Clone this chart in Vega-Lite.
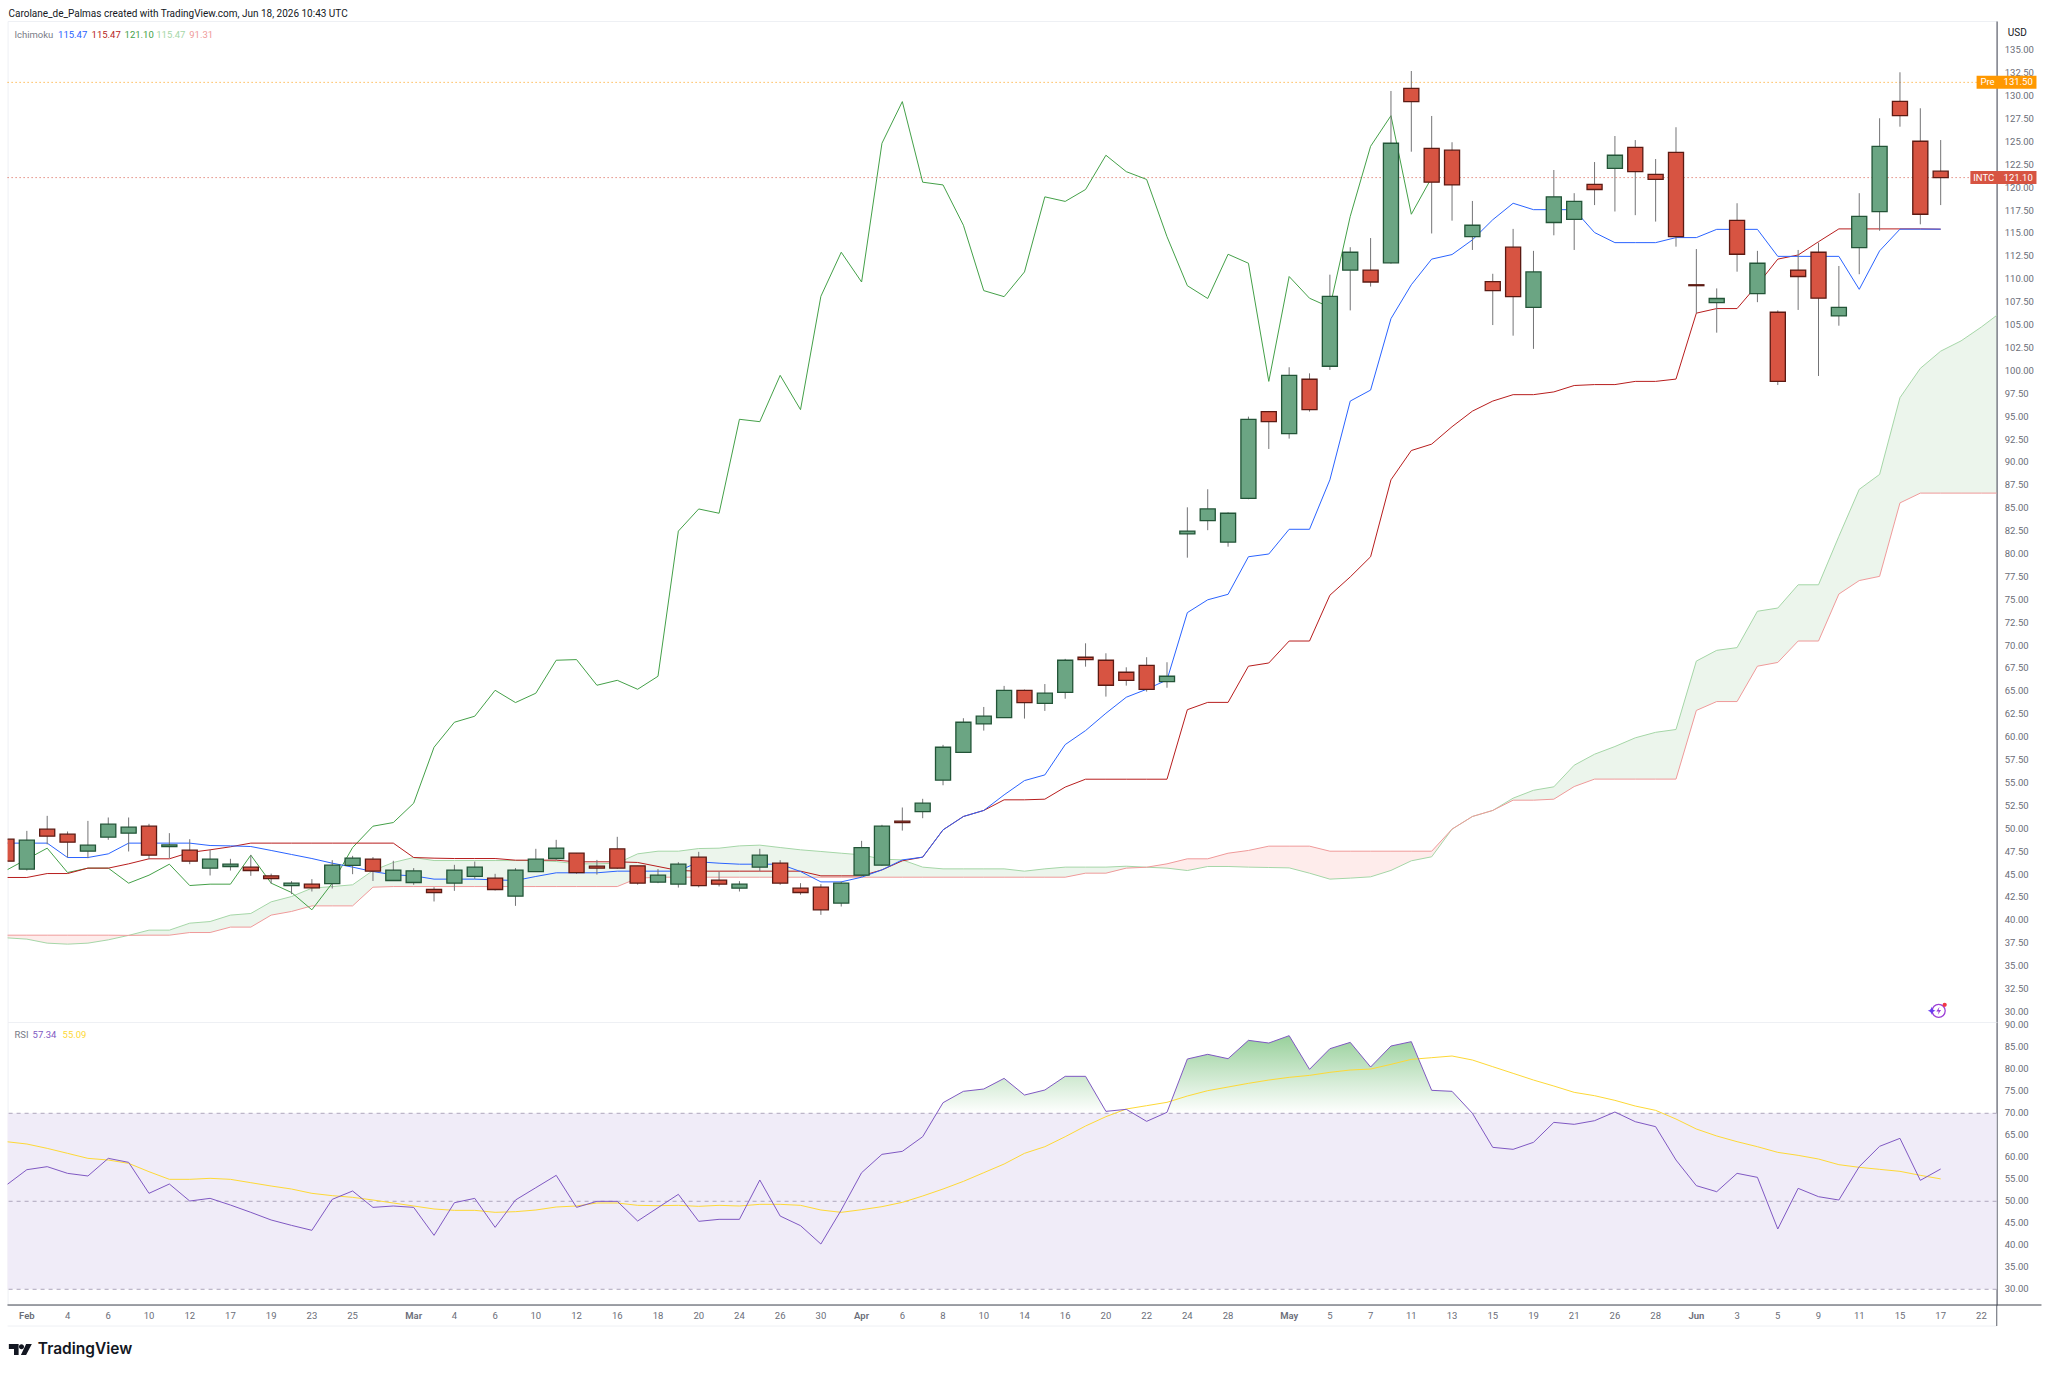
{
  "$schema": "https://vega.github.io/schema/vega-lite/v6.json",
  "background": "white",
  "padding": {"left": 5.6, "top": 8, "right": 0, "bottom": 0},
  "config": {
    "font": "Roboto",
    "view": {"stroke": "#eef0f4"},
    "axis": {"domain": false, "ticks": false, "labels": false, "grid": false}
  },
  "datasets": {
    "bars": [
      {"date":"2026-01-30","open":48.86,"high":49.0,"low":46.2,"close":46.46,"tenkan":48.43,"kijun":44.68,"chikou":45.48,"rsi":53.7,"rsi_ma":63.55},
      {"date":"2026-02-02","open":45.59,"high":49.77,"low":45.44,"close":48.75,"tenkan":48.43,"kijun":44.68,"chikou":46.68,"rsi":57.18,"rsi_ma":63.02},
      {"date":"2026-02-03","open":49.95,"high":51.41,"low":48.3,"close":49.19,"tenkan":48.43,"kijun":45.11,"chikou":47.88,"rsi":57.87,"rsi_ma":62.03},
      {"date":"2026-02-04","open":49.41,"high":49.7,"low":46.86,"close":48.54,"tenkan":46.86,"kijun":45.11,"chikou":45.22,"rsi":56.35,"rsi_ma":60.9},
      {"date":"2026-02-05","open":47.55,"high":50.86,"low":46.79,"close":48.21,"tenkan":46.86,"kijun":45.7,"chikou":45.7,"rsi":55.75,"rsi_ma":59.76},
      {"date":"2026-02-06","open":49.08,"high":51.23,"low":48.79,"close":50.5,"tenkan":47.26,"kijun":45.7,"chikou":45.7,"rsi":59.76,"rsi_ma":59.38},
      {"date":"2026-02-09","open":49.52,"high":51.23,"low":47.52,"close":50.17,"tenkan":48.43,"kijun":46.17,"chikou":44.06,"rsi":58.85,"rsi_ma":58.62},
      {"date":"2026-02-10","open":50.28,"high":50.54,"low":46.68,"close":47.12,"tenkan":48.43,"kijun":46.72,"chikou":44.93,"rsi":51.81,"rsi_ma":56.73},
      {"date":"2026-02-11","open":48.06,"high":49.52,"low":46.8,"close":48.24,"tenkan":48.43,"kijun":46.72,"chikou":46.13,"rsi":53.93,"rsi_ma":54.99},
      {"date":"2026-02-12","open":47.66,"high":48.86,"low":46.13,"close":46.46,"tenkan":48.43,"kijun":47.41,"chikou":43.8,"rsi":50.06,"rsi_ma":54.99},
      {"date":"2026-02-13","open":45.7,"high":47.7,"low":44.9,"close":46.68,"tenkan":48.17,"kijun":47.7,"chikou":43.95,"rsi":50.67,"rsi_ma":55.22},
      {"date":"2026-02-17","open":45.88,"high":46.72,"low":45.44,"close":46.13,"tenkan":48.13,"kijun":48.03,"chikou":43.95,"rsi":49.15,"rsi_ma":54.99},
      {"date":"2026-02-18","open":45.81,"high":47.15,"low":44.86,"close":45.44,"tenkan":48.06,"kijun":48.43,"chikou":47.12,"rsi":47.49,"rsi_ma":54.23},
      {"date":"2026-02-19","open":44.86,"high":45.1,"low":44.0,"close":44.57,"tenkan":47.63,"kijun":48.43,"chikou":44.06,"rsi":45.75,"rsi_ma":53.47},
      {"date":"2026-02-20","open":43.8,"high":44.28,"low":42.86,"close":44.06,"tenkan":47.19,"kijun":48.43,"chikou":43.04,"rsi":44.53,"rsi_ma":52.79},
      {"date":"2026-02-23","open":43.95,"high":44.5,"low":43.15,"close":43.55,"tenkan":46.75,"kijun":48.43,"chikou":41.15,"rsi":43.4,"rsi_ma":51.81},
      {"date":"2026-02-24","open":44.02,"high":46.57,"low":43.48,"close":46.02,"tenkan":46.24,"kijun":48.43,"chikou":44.06,"rsi":50.44,"rsi_ma":51.28},
      {"date":"2026-02-25","open":46.0,"high":47.04,"low":45.04,"close":46.79,"tenkan":45.81,"kijun":48.43,"chikou":47.95,"rsi":52.34,"rsi_ma":50.9},
      {"date":"2026-02-26","open":46.68,"high":46.9,"low":44.3,"close":45.37,"tenkan":45.33,"kijun":48.43,"chikou":50.28,"rsi":48.62,"rsi_ma":50.29},
      {"date":"2026-02-27","open":44.35,"high":46.5,"low":44.35,"close":45.48,"tenkan":44.97,"kijun":48.43,"chikou":50.68,"rsi":48.93,"rsi_ma":49.61},
      {"date":"2026-03-02","open":44.13,"high":45.7,"low":43.88,"close":45.4,"tenkan":44.86,"kijun":46.86,"chikou":52.79,"rsi":48.62,"rsi_ma":48.93},
      {"date":"2026-03-03","open":43.37,"high":43.62,"low":42.06,"close":43.04,"tenkan":44.5,"kijun":46.79,"chikou":58.9,"rsi":42.26,"rsi_ma":48.25},
      {"date":"2026-03-04","open":44.06,"high":46.06,"low":43.22,"close":45.48,"tenkan":44.5,"kijun":46.75,"chikou":61.63,"rsi":49.68,"rsi_ma":47.94},
      {"date":"2026-03-05","open":44.79,"high":46.42,"low":44.53,"close":45.8,"tenkan":44.5,"kijun":46.75,"chikou":62.29,"rsi":50.67,"rsi_ma":47.94},
      {"date":"2026-03-06","open":44.6,"high":45.08,"low":43.26,"close":43.37,"tenkan":44.42,"kijun":46.75,"chikou":65.12,"rsi":44.08,"rsi_ma":47.49},
      {"date":"2026-03-09","open":42.64,"high":45.7,"low":41.58,"close":45.48,"tenkan":44.35,"kijun":46.57,"chikou":63.78,"rsi":50.29,"rsi_ma":47.64},
      {"date":"2026-03-10","open":45.33,"high":47.81,"low":45.33,"close":46.68,"tenkan":44.79,"kijun":46.57,"chikou":64.8,"rsi":53.09,"rsi_ma":48.02},
      {"date":"2026-03-11","open":46.75,"high":48.79,"low":46.6,"close":47.88,"tenkan":45.19,"kijun":46.57,"chikou":68.4,"rsi":55.9,"rsi_ma":48.7},
      {"date":"2026-03-12","open":47.33,"high":47.33,"low":45.08,"close":45.22,"tenkan":45.19,"kijun":46.39,"chikou":68.47,"rsi":48.62,"rsi_ma":48.93},
      {"date":"2026-03-13","open":45.91,"high":46.6,"low":45.0,"close":45.7,"tenkan":45.19,"kijun":46.39,"chikou":65.67,"rsi":49.99,"rsi_ma":49.61},
      {"date":"2026-03-16","open":47.81,"high":49.12,"low":45.62,"close":45.7,"tenkan":45.37,"kijun":46.39,"chikou":66.21,"rsi":49.99,"rsi_ma":49.61},
      {"date":"2026-03-17","open":45.95,"high":45.95,"low":43.9,"close":44.06,"tenkan":45.37,"kijun":46.32,"chikou":65.23,"rsi":45.52,"rsi_ma":49.08},
      {"date":"2026-03-18","open":44.17,"high":45.6,"low":44.06,"close":44.93,"tenkan":45.37,"kijun":45.88,"chikou":66.65,"rsi":48.55,"rsi_ma":49.0},
      {"date":"2026-03-19","open":43.95,"high":46.35,"low":43.58,"close":46.13,"tenkan":45.37,"kijun":45.44,"chikou":82.5,"rsi":51.58,"rsi_ma":49.08},
      {"date":"2026-03-20","open":46.9,"high":47.48,"low":43.6,"close":43.8,"tenkan":46.39,"kijun":45.37,"chikou":84.92,"rsi":45.44,"rsi_ma":48.85},
      {"date":"2026-03-23","open":44.39,"high":45.33,"low":43.7,"close":43.95,"tenkan":46.24,"kijun":45.37,"chikou":84.45,"rsi":45.9,"rsi_ma":49.08},
      {"date":"2026-03-24","open":43.51,"high":44.28,"low":43.15,"close":43.95,"tenkan":46.13,"kijun":45.37,"chikou":94.71,"rsi":45.9,"rsi_ma":48.93},
      {"date":"2026-03-25","open":45.8,"high":47.81,"low":45.37,"close":47.12,"tenkan":46.13,"kijun":45.37,"chikou":94.45,"rsi":54.84,"rsi_ma":49.31},
      {"date":"2026-03-26","open":46.24,"high":46.57,"low":43.88,"close":44.06,"tenkan":46.13,"kijun":45.37,"chikou":99.51,"rsi":46.65,"rsi_ma":49.31},
      {"date":"2026-03-27","open":43.51,"high":44.06,"low":42.8,"close":43.04,"tenkan":45.33,"kijun":45.37,"chikou":95.76,"rsi":44.46,"rsi_ma":49.08},
      {"date":"2026-03-30","open":43.62,"high":43.95,"low":40.6,"close":41.15,"tenkan":44.2,"kijun":44.86,"chikou":108.14,"rsi":40.29,"rsi_ma":48.02},
      {"date":"2026-03-31","open":41.88,"high":44.24,"low":41.51,"close":44.06,"tenkan":44.2,"kijun":44.86,"chikou":112.95,"rsi":48.02,"rsi_ma":47.49},
      {"date":"2026-04-01","open":44.93,"high":48.68,"low":44.8,"close":47.95,"tenkan":44.71,"kijun":44.86,"chikou":109.7,"rsi":56.5,"rsi_ma":48.09},
      {"date":"2026-04-02","open":46.02,"high":50.43,"low":45.95,"close":50.28,"tenkan":45.51,"kijun":45.51,"chikou":124.85,"rsi":60.67,"rsi_ma":48.78},
      {"date":"2026-04-06","open":50.83,"high":52.32,"low":49.8,"close":50.68,"tenkan":46.6,"kijun":46.5,"chikou":129.4,"rsi":61.35,"rsi_ma":49.76},
      {"date":"2026-04-07","open":51.88,"high":53.27,"low":51.15,"close":52.79,"tenkan":46.9,"kijun":46.9,"chikou":120.6,"rsi":64.68,"rsi_ma":51.2},
      {"date":"2026-04-08","open":55.3,"high":59.16,"low":54.75,"close":58.9,"tenkan":49.88,"kijun":49.88,"chikou":120.3,"rsi":72.41,"rsi_ma":52.79},
      {"date":"2026-04-09","open":58.35,"high":62.07,"low":58.3,"close":61.63,"tenkan":51.34,"kijun":51.34,"chikou":115.9,"rsi":74.99,"rsi_ma":54.53},
      {"date":"2026-04-10","open":61.45,"high":63.3,"low":60.72,"close":62.29,"tenkan":52.0,"kijun":52.0,"chikou":108.76,"rsi":75.52,"rsi_ma":56.5},
      {"date":"2026-04-13","open":62.14,"high":65.6,"low":62.1,"close":65.12,"tenkan":53.7,"kijun":53.16,"chikou":108.1,"rsi":77.94,"rsi_ma":58.47},
      {"date":"2026-04-14","open":65.12,"high":65.2,"low":62.03,"close":63.78,"tenkan":55.26,"kijun":53.16,"chikou":110.8,"rsi":74.15,"rsi_ma":60.9},
      {"date":"2026-04-15","open":63.7,"high":65.8,"low":62.87,"close":64.8,"tenkan":55.88,"kijun":53.23,"chikou":119,"rsi":75.29,"rsi_ma":62.41},
      {"date":"2026-04-16","open":64.9,"high":68.55,"low":64.2,"close":68.4,"tenkan":59.19,"kijun":54.55,"chikou":118.5,"rsi":78.4,"rsi_ma":64.68},
      {"date":"2026-04-17","open":68.73,"high":70.25,"low":67.7,"close":68.47,"tenkan":60.72,"kijun":55.41,"chikou":119.8,"rsi":78.4,"rsi_ma":67.11},
      {"date":"2026-04-20","open":68.4,"high":69.16,"low":64.43,"close":65.67,"tenkan":62.61,"kijun":55.41,"chikou":123.54,"rsi":70.44,"rsi_ma":69.23},
      {"date":"2026-04-21","open":67.09,"high":67.63,"low":65.63,"close":66.21,"tenkan":64.36,"kijun":55.41,"chikou":121.75,"rsi":70.9,"rsi_ma":70.97},
      {"date":"2026-04-22","open":67.85,"high":68.73,"low":64.98,"close":65.23,"tenkan":65.23,"kijun":55.41,"chikou":120.9,"rsi":68.17,"rsi_ma":71.73},
      {"date":"2026-04-23","open":66.07,"high":68.18,"low":65.4,"close":66.65,"tenkan":66.25,"kijun":55.41,"chikou":114.65,"rsi":70.22,"rsi_ma":72.49},
      {"date":"2026-04-24","open":82.2,"high":85.1,"low":79.6,"close":82.5,"tenkan":73.6,"kijun":63.0,"chikou":109.3,"rsi":82.34,"rsi_ma":73.93},
      {"date":"2026-04-27","open":83.65,"high":87.07,"low":82.6,"close":84.92,"tenkan":75.0,"kijun":63.8,"chikou":107.9,"rsi":83.4,"rsi_ma":75.14},
      {"date":"2026-04-28","open":81.3,"high":84.55,"low":80.8,"close":84.45,"tenkan":75.6,"kijun":63.8,"chikou":112.73,"rsi":82.41,"rsi_ma":75.97},
      {"date":"2026-04-29","open":86.08,"high":95.0,"low":85.98,"close":94.71,"tenkan":79.7,"kijun":67.75,"chikou":111.75,"rsi":86.58,"rsi_ma":76.81},
      {"date":"2026-04-30","open":95.55,"high":95.62,"low":91.47,"close":94.45,"tenkan":80.0,"kijun":68.1,"chikou":98.85,"rsi":85.97,"rsi_ma":77.56},
      {"date":"2026-05-01","open":93.14,"high":100.39,"low":92.6,"close":99.51,"tenkan":82.7,"kijun":70.5,"chikou":110.3,"rsi":87.64,"rsi_ma":78.17},
      {"date":"2026-05-04","open":99.08,"high":99.73,"low":95.55,"close":95.76,"tenkan":82.7,"kijun":70.5,"chikou":107.93,"rsi":79.99,"rsi_ma":78.62},
      {"date":"2026-05-05","open":100.5,"high":110.5,"low":100.1,"close":108.14,"tenkan":88.1,"kijun":75.5,"chikou":106.94,"rsi":84.68,"rsi_ma":79.31},
      {"date":"2026-05-06","open":111.0,"high":113.5,"low":106.6,"close":112.95,"tenkan":96.7,"kijun":77.5,"chikou":116.87,"rsi":86.12,"rsi_ma":79.84},
      {"date":"2026-05-07","open":111.0,"high":114.5,"low":109.2,"close":109.7,"tenkan":97.9,"kijun":79.7,"chikou":124.52,"rsi":80.52,"rsi_ma":80.06},
      {"date":"2026-05-08","open":111.8,"high":130.56,"low":111.7,"close":124.85,"tenkan":105.7,"kijun":88.1,"chikou":127.86,"rsi":85.29,"rsi_ma":81.12},
      {"date":"2026-05-11","open":130.85,"high":132.74,"low":123.93,"close":129.4,"tenkan":109.4,"kijun":91.3,"chikou":117.1,"rsi":86.28,"rsi_ma":82.26},
      {"date":"2026-05-12","open":124.3,"high":127.83,"low":115.0,"close":120.6,"tenkan":112.2,"kijun":92.0,"chikou":121.1,"rsi":75.22,"rsi_ma":82.64},
      {"date":"2026-05-13","open":124.1,"high":124.96,"low":116.4,"close":120.3,"tenkan":112.7,"kijun":93.9,"rsi":74.99,"rsi_ma":83.02},
      {"date":"2026-05-14","open":114.65,"high":118.55,"low":113.2,"close":115.9,"tenkan":114.3,"kijun":95.6,"rsi":70.0,"rsi_ma":82.11},
      {"date":"2026-05-15","open":109.74,"high":110.6,"low":105.0,"close":108.76,"tenkan":116.5,"kijun":96.7,"rsi":62.26,"rsi_ma":80.59},
      {"date":"2026-05-18","open":113.5,"high":115.5,"low":103.84,"close":108.1,"tenkan":118.3,"kijun":97.4,"rsi":61.81,"rsi_ma":79.08},
      {"date":"2026-05-19","open":106.94,"high":113.1,"low":102.4,"close":110.8,"tenkan":117.6,"kijun":97.4,"rsi":63.4,"rsi_ma":77.56},
      {"date":"2026-05-20","open":116.2,"high":121.93,"low":114.8,"close":119.0,"tenkan":117.6,"kijun":97.7,"rsi":67.94,"rsi_ma":76.2},
      {"date":"2026-05-21","open":116.55,"high":119.4,"low":113.2,"close":118.5,"tenkan":117.6,"kijun":98.4,"rsi":67.49,"rsi_ma":74.76},
      {"date":"2026-05-22","open":120.37,"high":122.8,"low":118.1,"close":119.8,"tenkan":115.1,"kijun":98.5,"rsi":68.32,"rsi_ma":74.0},
      {"date":"2026-05-26","open":122.1,"high":125.64,"low":117.4,"close":123.54,"tenkan":114.0,"kijun":98.5,"rsi":70.29,"rsi_ma":72.94},
      {"date":"2026-05-27","open":124.4,"high":125.2,"low":117.0,"close":121.75,"tenkan":114.0,"kijun":98.85,"rsi":68.09,"rsi_ma":71.65},
      {"date":"2026-05-28","open":121.46,"high":123.13,"low":116.3,"close":120.9,"tenkan":114.0,"kijun":98.85,"rsi":66.96,"rsi_ma":70.67},
      {"date":"2026-05-29","open":123.86,"high":126.6,"low":113.56,"close":114.65,"tenkan":114.55,"kijun":99.1,"rsi":59.38,"rsi_ma":68.7},
      {"date":"2026-06-01","open":109.4,"high":113.3,"low":106.3,"close":109.3,"tenkan":114.55,"kijun":106.3,"rsi":53.55,"rsi_ma":66.43},
      {"date":"2026-06-02","open":107.45,"high":109.0,"low":104.17,"close":107.9,"tenkan":115.45,"kijun":106.8,"rsi":52.18,"rsi_ma":64.84},
      {"date":"2026-06-03","open":116.44,"high":118.3,"low":110.83,"close":112.73,"tenkan":115.45,"kijun":106.8,"rsi":56.35,"rsi_ma":63.55},
      {"date":"2026-06-04","open":108.43,"high":113.1,"low":107.5,"close":111.75,"tenkan":115.45,"kijun":109.4,"rsi":55.44,"rsi_ma":62.41},
      {"date":"2026-06-05","open":106.4,"high":106.6,"low":98.45,"close":98.85,"tenkan":112.5,"kijun":112.2,"rsi":43.7,"rsi_ma":61.12},
      {"date":"2026-06-08","open":111.0,"high":113.2,"low":106.65,"close":110.3,"tenkan":112.5,"kijun":112.65,"rsi":52.94,"rsi_ma":60.44},
      {"date":"2026-06-09","open":112.95,"high":114.0,"low":99.44,"close":107.93,"tenkan":112.5,"kijun":114.1,"rsi":51.05,"rsi_ma":59.61},
      {"date":"2026-06-10","open":106.0,"high":111.45,"low":104.93,"close":106.94,"tenkan":112.5,"kijun":115.5,"rsi":50.29,"rsi_ma":58.32},
      {"date":"2026-06-11","open":113.45,"high":119.4,"low":110.55,"close":116.87,"tenkan":108.9,"kijun":115.5,"rsi":57.87,"rsi_ma":57.72},
      {"date":"2026-06-12","open":117.38,"high":127.58,"low":115.3,"close":124.52,"tenkan":113.1,"kijun":115.5,"rsi":62.49,"rsi_ma":57.26},
      {"date":"2026-06-15","open":129.43,"high":132.6,"low":126.66,"close":127.86,"tenkan":115.47,"kijun":115.5,"rsi":64.31,"rsi_ma":56.81},
      {"date":"2026-06-16","open":125.07,"high":128.67,"low":116.0,"close":117.1,"tenkan":115.47,"kijun":115.5,"rsi":54.76,"rsi_ma":55.9},
      {"date":"2026-06-17","open":121.8,"high":125.2,"low":118.1,"close":121.1,"tenkan":115.47,"kijun":115.47,"rsi":57.34,"rsi_ma":55.09}
    ],
    "cloud": [
      {"date":"2026-01-30","a":38.09,"b":38.38,"kind":"bear","seg":1},
      {"date":"2026-02-02","a":37.95,"b":38.38,"kind":"bear","seg":1},
      {"date":"2026-02-03","a":37.51,"b":38.38,"kind":"bear","seg":1},
      {"date":"2026-02-04","a":37.4,"b":38.38,"kind":"bear","seg":1},
      {"date":"2026-02-05","a":37.51,"b":38.38,"kind":"bear","seg":1},
      {"date":"2026-02-06","a":37.87,"b":38.38,"kind":"bear","seg":1},
      {"date":"2026-02-09","a":38.36,"b":38.36,"kind":"bear","seg":1},
      {"date":"2026-02-09","a":38.36,"b":38.36,"kind":"bull","seg":2},
      {"date":"2026-02-10","a":38.93,"b":38.38,"kind":"bull","seg":2},
      {"date":"2026-02-11","a":38.93,"b":38.38,"kind":"bull","seg":2},
      {"date":"2026-02-12","a":39.69,"b":38.67,"kind":"bull","seg":2},
      {"date":"2026-02-13","a":39.87,"b":38.67,"kind":"bull","seg":2},
      {"date":"2026-02-17","a":40.57,"b":39.26,"kind":"bull","seg":2},
      {"date":"2026-02-18","a":40.75,"b":39.26,"kind":"bull","seg":2},
      {"date":"2026-02-19","a":42.02,"b":40.57,"kind":"bull","seg":2},
      {"date":"2026-02-20","a":42.6,"b":40.97,"kind":"bull","seg":2},
      {"date":"2026-02-23","a":43.51,"b":41.58,"kind":"bull","seg":2},
      {"date":"2026-02-24","a":43.69,"b":41.58,"kind":"bull","seg":2},
      {"date":"2026-02-25","a":43.88,"b":41.58,"kind":"bull","seg":2},
      {"date":"2026-02-26","a":45.44,"b":43.62,"kind":"bull","seg":2},
      {"date":"2026-02-27","a":46.32,"b":43.69,"kind":"bull","seg":2},
      {"date":"2026-03-02","a":46.86,"b":43.69,"kind":"bull","seg":2},
      {"date":"2026-03-03","a":46.53,"b":43.69,"kind":"bull","seg":2},
      {"date":"2026-03-04","a":46.53,"b":43.69,"kind":"bull","seg":2},
      {"date":"2026-03-05","a":46.53,"b":43.69,"kind":"bull","seg":2},
      {"date":"2026-03-06","a":46.53,"b":43.69,"kind":"bull","seg":2},
      {"date":"2026-03-09","a":46.53,"b":43.69,"kind":"bull","seg":2},
      {"date":"2026-03-10","a":46.53,"b":43.69,"kind":"bull","seg":2},
      {"date":"2026-03-11","a":46.42,"b":43.69,"kind":"bull","seg":2},
      {"date":"2026-03-12","a":46.17,"b":43.69,"kind":"bull","seg":2},
      {"date":"2026-03-13","a":46.17,"b":43.69,"kind":"bull","seg":2},
      {"date":"2026-03-16","a":46.24,"b":43.69,"kind":"bull","seg":2},
      {"date":"2026-03-17","a":47.26,"b":44.6,"kind":"bull","seg":2},
      {"date":"2026-03-18","a":47.55,"b":44.71,"kind":"bull","seg":2},
      {"date":"2026-03-19","a":47.55,"b":44.71,"kind":"bull","seg":2},
      {"date":"2026-03-20","a":47.84,"b":44.71,"kind":"bull","seg":2},
      {"date":"2026-03-23","a":47.88,"b":44.71,"kind":"bull","seg":2},
      {"date":"2026-03-24","a":48.13,"b":44.71,"kind":"bull","seg":2},
      {"date":"2026-03-25","a":48.21,"b":44.71,"kind":"bull","seg":2},
      {"date":"2026-03-26","a":47.95,"b":44.71,"kind":"bull","seg":2},
      {"date":"2026-03-27","a":47.7,"b":44.71,"kind":"bull","seg":2},
      {"date":"2026-03-30","a":47.52,"b":44.71,"kind":"bull","seg":2},
      {"date":"2026-03-31","a":47.33,"b":44.71,"kind":"bull","seg":2},
      {"date":"2026-04-01","a":47.15,"b":44.71,"kind":"bull","seg":2},
      {"date":"2026-04-02","a":46.68,"b":44.71,"kind":"bull","seg":2},
      {"date":"2026-04-06","a":46.6,"b":44.71,"kind":"bull","seg":2},
      {"date":"2026-04-07","a":45.81,"b":44.71,"kind":"bull","seg":2},
      {"date":"2026-04-08","a":45.62,"b":44.71,"kind":"bull","seg":2},
      {"date":"2026-04-09","a":45.62,"b":44.71,"kind":"bull","seg":2},
      {"date":"2026-04-10","a":45.62,"b":44.71,"kind":"bull","seg":2},
      {"date":"2026-04-13","a":45.62,"b":44.71,"kind":"bull","seg":2},
      {"date":"2026-04-14","a":45.37,"b":44.71,"kind":"bull","seg":2},
      {"date":"2026-04-15","a":45.62,"b":44.71,"kind":"bull","seg":2},
      {"date":"2026-04-16","a":45.81,"b":44.71,"kind":"bull","seg":2},
      {"date":"2026-04-17","a":45.81,"b":45.15,"kind":"bull","seg":2},
      {"date":"2026-04-20","a":45.81,"b":45.15,"kind":"bull","seg":2},
      {"date":"2026-04-21","a":45.91,"b":45.7,"kind":"bull","seg":2},
      {"date":"2026-04-22","a":45.8,"b":45.8,"kind":"bull","seg":2},
      {"date":"2026-04-22","a":45.8,"b":45.8,"kind":"bear","seg":3},
      {"date":"2026-04-23","a":45.7,"b":46.17,"kind":"bear","seg":3},
      {"date":"2026-04-24","a":45.44,"b":46.72,"kind":"bear","seg":3},
      {"date":"2026-04-27","a":45.88,"b":46.72,"kind":"bear","seg":3},
      {"date":"2026-04-28","a":45.88,"b":47.33,"kind":"bear","seg":3},
      {"date":"2026-04-29","a":45.81,"b":47.63,"kind":"bear","seg":3},
      {"date":"2026-04-30","a":45.77,"b":48.1,"kind":"bear","seg":3},
      {"date":"2026-05-01","a":45.73,"b":48.1,"kind":"bear","seg":3},
      {"date":"2026-05-04","a":45.15,"b":48.1,"kind":"bear","seg":3},
      {"date":"2026-05-05","a":44.5,"b":47.55,"kind":"bear","seg":3},
      {"date":"2026-05-06","a":44.61,"b":47.55,"kind":"bear","seg":3},
      {"date":"2026-05-07","a":44.75,"b":47.55,"kind":"bear","seg":3},
      {"date":"2026-05-08","a":45.45,"b":47.55,"kind":"bear","seg":3},
      {"date":"2026-05-11","a":46.5,"b":47.55,"kind":"bear","seg":3},
      {"date":"2026-05-12","a":46.94,"b":47.55,"kind":"bear","seg":3},
      {"date":"2026-05-13","a":49.96,"b":49.96,"kind":"bear","seg":3},
      {"date":"2026-05-13","a":49.96,"b":49.96,"kind":"bull","seg":4},
      {"date":"2026-05-14","a":51.34,"b":51.34,"kind":"bull","seg":4},
      {"date":"2026-05-15","a":52.0,"b":52.0,"kind":"bull","seg":4},
      {"date":"2026-05-18","a":53.34,"b":53.12,"kind":"bull","seg":4},
      {"date":"2026-05-19","a":54.2,"b":53.12,"kind":"bull","seg":4},
      {"date":"2026-05-20","a":54.58,"b":53.23,"kind":"bull","seg":4},
      {"date":"2026-05-21","a":56.94,"b":54.61,"kind":"bull","seg":4},
      {"date":"2026-05-22","a":58.14,"b":55.42,"kind":"bull","seg":4},
      {"date":"2026-05-26","a":58.98,"b":55.42,"kind":"bull","seg":4},
      {"date":"2026-05-27","a":59.93,"b":55.42,"kind":"bull","seg":4},
      {"date":"2026-05-28","a":60.53,"b":55.42,"kind":"bull","seg":4},
      {"date":"2026-05-29","a":60.84,"b":55.42,"kind":"bull","seg":4},
      {"date":"2026-06-01","a":68.31,"b":62.92,"kind":"bull","seg":4},
      {"date":"2026-06-02","a":69.48,"b":63.89,"kind":"bull","seg":4},
      {"date":"2026-06-03","a":69.78,"b":63.89,"kind":"bull","seg":4},
      {"date":"2026-06-04","a":73.75,"b":67.75,"kind":"bull","seg":4},
      {"date":"2026-06-05","a":74.1,"b":68.16,"kind":"bull","seg":4},
      {"date":"2026-06-08","a":76.64,"b":70.5,"kind":"bull","seg":4},
      {"date":"2026-06-09","a":76.64,"b":70.5,"kind":"bull","seg":4},
      {"date":"2026-06-10","a":81.93,"b":75.63,"kind":"bull","seg":4},
      {"date":"2026-06-11","a":87.06,"b":77.1,"kind":"bull","seg":4},
      {"date":"2026-06-12","a":88.69,"b":77.56,"kind":"bull","seg":4},
      {"date":"2026-06-15","a":97.07,"b":85.58,"kind":"bull","seg":4},
      {"date":"2026-06-16","a":100.27,"b":86.65,"kind":"bull","seg":4},
      {"date":"2026-06-17","a":102.15,"b":86.65,"kind":"bull","seg":4},
      {"date":"2026-06-18","a":103.27,"b":86.65,"kind":"bull","seg":4},
      {"date":"2026-06-22","a":104.79,"b":86.65,"kind":"bull","seg":4},
      {"date":"2026-06-23","a":106.47,"b":86.65,"kind":"bull","seg":4}
    ],
    "price_ticks": [{"tick":30},{"tick":32.5},{"tick":35},{"tick":37.5},{"tick":40},{"tick":42.5},{"tick":45},{"tick":47.5},{"tick":50},{"tick":52.5},{"tick":55},{"tick":57.5},{"tick":60},{"tick":62.5},{"tick":65},{"tick":67.5},{"tick":70},{"tick":72.5},{"tick":75},{"tick":77.5},{"tick":80},{"tick":82.5},{"tick":85},{"tick":87.5},{"tick":90},{"tick":92.5},{"tick":95},{"tick":97.5},{"tick":100},{"tick":102.5},{"tick":105},{"tick":107.5},{"tick":110},{"tick":112.5},{"tick":115},{"tick":117.5},{"tick":120},{"tick":122.5},{"tick":125},{"tick":127.5},{"tick":130},{"tick":132.5},{"tick":135}],
    "rsi_ticks": [{"tick":30},{"tick":35},{"tick":40},{"tick":45},{"tick":50},{"tick":55},{"tick":60},{"tick":65},{"tick":70},{"tick":75},{"tick":80},{"tick":85},{"tick":90}],
    "one": [{}]
  },
  "spacing": 0,
  "bounds": "flush",
  "vconcat": [
    {
      "width": 1989,
      "height": 1001,
      "layer": [
        {
          "data": {"name": "cloud"},
          "mark": {"type": "area", "opacity": 0.1, "clip": true},
          "encoding": {
            "x": {
              "field": "date", "type": "ordinal",
              "axis": {"title": null, "labels": false},
              "scale": {
                "type": "band", "range": [-11.3, 2065.42], "paddingInner": 0.26, "paddingOuter": 0.13,
                "domain": ["2026-01-30","2026-02-02","2026-02-03","2026-02-04","2026-02-05","2026-02-06","2026-02-09","2026-02-10","2026-02-11","2026-02-12","2026-02-13","2026-02-17","2026-02-18","2026-02-19","2026-02-20","2026-02-23","2026-02-24","2026-02-25","2026-02-26","2026-02-27","2026-03-02","2026-03-03","2026-03-04","2026-03-05","2026-03-06","2026-03-09","2026-03-10","2026-03-11","2026-03-12","2026-03-13","2026-03-16","2026-03-17","2026-03-18","2026-03-19","2026-03-20","2026-03-23","2026-03-24","2026-03-25","2026-03-26","2026-03-27","2026-03-30","2026-03-31","2026-04-01","2026-04-02","2026-04-06","2026-04-07","2026-04-08","2026-04-09","2026-04-10","2026-04-13","2026-04-14","2026-04-15","2026-04-16","2026-04-17","2026-04-20","2026-04-21","2026-04-22","2026-04-23","2026-04-24","2026-04-27","2026-04-28","2026-04-29","2026-04-30","2026-05-01","2026-05-04","2026-05-05","2026-05-06","2026-05-07","2026-05-08","2026-05-11","2026-05-12","2026-05-13","2026-05-14","2026-05-15","2026-05-18","2026-05-19","2026-05-20","2026-05-21","2026-05-22","2026-05-26","2026-05-27","2026-05-28","2026-05-29","2026-06-01","2026-06-02","2026-06-03","2026-06-04","2026-06-05","2026-06-08","2026-06-09","2026-06-10","2026-06-11","2026-06-12","2026-06-15","2026-06-16","2026-06-17","2026-06-18","2026-06-22","2026-06-23","2026-06-24","2026-06-25","2026-06-26"]
              }
            },
            "y": {
              "field": "a", "type": "quantitative",
              "scale": {"domain": [28.9, 138.2], "zero": false, "nice": false},
              "axis": {"labels": false, "orient": "right", "title": null, "ticks": false, "grid": false, "domain": true, "domainColor": "#5d606b", "domainWidth": 1.2}
            },
            "y2": {"field": "b"},
            "fill": {"field": "kind", "type": "nominal", "scale": {"domain": ["bull", "bear"], "range": ["#43A047", "#F44336"]}, "legend": null},
            "detail": {"field": "seg"}
          }
        },
        {
          "data": {"name": "cloud"},
          "mark": {"type": "line", "color": "#A5D6A7", "strokeWidth": 1, "clip": true},
          "encoding": {
            "x": {"field": "date", "type": "ordinal"},
            "y": {"field": "a", "type": "quantitative"}
          }
        },
        {
          "data": {"name": "cloud"},
          "mark": {"type": "line", "color": "#EF9A9A", "strokeWidth": 1, "clip": true},
          "encoding": {
            "x": {"field": "date", "type": "ordinal"},
            "y": {"field": "b", "type": "quantitative"}
          }
        },
        {
          "data": {"name": "one"},
          "mark": {"type": "rule", "color": "#FF9800", "strokeWidth": 1, "strokeDash": [1, 3]},
          "encoding": {"y": {"datum": 131.5}}
        },
        {
          "data": {"name": "one"},
          "mark": {"type": "rule", "color": "#D75442", "strokeWidth": 1, "strokeDash": [1, 3]},
          "encoding": {"y": {"datum": 121.1}}
        },
        {
          "data": {"name": "bars"},
          "mark": {"type": "line", "color": "#43A047", "strokeWidth": 1, "clip": true},
          "encoding": {
            "x": {"field": "date", "type": "ordinal"},
            "y": {"field": "chikou", "type": "quantitative"}
          }
        },
        {
          "data": {"name": "bars"},
          "mark": {"type": "line", "color": "#B71C1C", "strokeWidth": 1, "clip": true},
          "encoding": {
            "x": {"field": "date", "type": "ordinal"},
            "y": {"field": "kijun", "type": "quantitative"}
          }
        },
        {
          "data": {"name": "bars"},
          "mark": {"type": "line", "color": "#2962FF", "strokeWidth": 1, "clip": true},
          "encoding": {
            "x": {"field": "date", "type": "ordinal"},
            "y": {"field": "tenkan", "type": "quantitative"}
          }
        },
        {
          "data": {"name": "bars"},
          "mark": {"type": "rule", "color": "#737375", "strokeWidth": 1, "clip": true},
          "encoding": {
            "x": {"field": "date", "type": "ordinal"},
            "y": {"field": "low", "type": "quantitative"},
            "y2": {"field": "high"}
          }
        },
        {
          "data": {"name": "bars"},
          "mark": {"type": "bar", "width": {"band": 1}, "strokeWidth": 1.3, "clip": true},
          "encoding": {
            "x": {"field": "date", "type": "ordinal"},
            "y": {"field": "open", "type": "quantitative"},
            "y2": {"field": "close"},
            "fill": {"condition": {"test": "datum.close >= datum.open", "value": "#6BA583"}, "value": "#D75442"},
            "stroke": {"condition": {"test": "datum.close >= datum.open", "value": "#225437"}, "value": "#5B1A13"}
          }
        },
        {
          "data": {"name": "price_ticks"},
          "mark": {"type": "text", "align": "left", "dx": 3, "fontSize": 9.5, "color": "#6a6d78"},
          "encoding": {
            "x": {"datum": "2026-06-23", "type": "ordinal"},
            "y": {"field": "tick", "type": "quantitative"},
            "text": {"field": "tick", "type": "quantitative", "format": ".2f"}
          }
        },
        {
          "data": {"name": "one"},
          "mark": {"type": "text", "text": "Carolane_de_Palmas created with TradingView.com, Jun 18, 2026 10:43 UTC", "align": "left", "dx": 2, "fontSize": 10, "color": "#131722"},
          "encoding": {"x": {"datum": "2026-01-30", "type": "ordinal"}, "y": {"datum": 139}}
        },
        {
          "data": {"name": "one"},
          "mark": {"type": "text", "text": "Ichimoku", "align": "left", "dx": 8, "fontSize": 9.5, "color": "#787B86"},
          "encoding": {"x": {"datum": "2026-01-30", "type": "ordinal"}, "y": {"datum": 136.7}}
        },
        {
          "data": {"name": "one"},
          "mark": {"type": "text", "text": "115.47", "align": "left", "dx": 51.6, "fontSize": 9.5, "color": "#2962FF"},
          "encoding": {"x": {"datum": "2026-01-30", "type": "ordinal"}, "y": {"datum": 136.7}}
        },
        {
          "data": {"name": "one"},
          "mark": {"type": "text", "text": "115.47", "align": "left", "dx": 85.1, "fontSize": 9.5, "color": "#B71C1C"},
          "encoding": {"x": {"datum": "2026-01-30", "type": "ordinal"}, "y": {"datum": 136.7}}
        },
        {
          "data": {"name": "one"},
          "mark": {"type": "text", "text": "121.10", "align": "left", "dx": 118.1, "fontSize": 9.5, "color": "#43A047"},
          "encoding": {"x": {"datum": "2026-01-30", "type": "ordinal"}, "y": {"datum": 136.7}}
        },
        {
          "data": {"name": "one"},
          "mark": {"type": "text", "text": "115.47", "align": "left", "dx": 149.8, "fontSize": 9.5, "color": "#A5D6A7"},
          "encoding": {"x": {"datum": "2026-01-30", "type": "ordinal"}, "y": {"datum": 136.7}}
        },
        {
          "data": {"name": "one"},
          "mark": {"type": "text", "text": "91.31", "align": "left", "dx": 182.8, "fontSize": 9.5, "color": "#EF9A9A"},
          "encoding": {"x": {"datum": "2026-01-30", "type": "ordinal"}, "y": {"datum": 136.7}}
        },
        {
          "data": {"name": "one"},
          "mark": {"type": "text", "text": "USD", "align": "left", "dx": 6, "fontSize": 10, "color": "#131722"},
          "encoding": {"x": {"datum": "2026-06-23", "type": "ordinal"}, "y": {"datum": 136.9}}
        },
        {
          "data": {"name": "one"},
          "mark": {"type": "rule", "color": "#FF9800", "strokeWidth": 13, "xOffset": -4.8, "x2Offset": -6},
          "encoding": {"x": {"datum": "2026-06-22", "type": "ordinal"}, "x2": {"datum": "2026-06-25"}, "y": {"datum": 131.5}}
        },
        {
          "data": {"name": "one"},
          "mark": {"type": "rule", "color": "#D75442", "strokeWidth": 13, "xOffset": -11, "x2Offset": -6},
          "encoding": {"x": {"datum": "2026-06-22", "type": "ordinal"}, "x2": {"datum": "2026-06-25"}, "y": {"datum": 121.1}}
        },
        {
          "data": {"name": "one"},
          "mark": {"type": "text", "text": "Pre", "align": "left", "dx": -1, "fontSize": 9.5, "color": "white"},
          "encoding": {"x": {"datum": "2026-06-22", "type": "ordinal"}, "y": {"datum": 131.5}}
        },
        {
          "data": {"name": "one"},
          "mark": {"type": "text", "text": "131.50", "align": "left", "dx": 22.2, "fontSize": 9.5, "color": "white"},
          "encoding": {"x": {"datum": "2026-06-22", "type": "ordinal"}, "y": {"datum": 131.5}}
        },
        {
          "data": {"name": "one"},
          "mark": {"type": "text", "text": "INTC", "align": "left", "dx": -8.2, "fontSize": 9.5, "color": "white"},
          "encoding": {"x": {"datum": "2026-06-22", "type": "ordinal"}, "y": {"datum": 121.1}}
        },
        {
          "data": {"name": "one"},
          "mark": {"type": "text", "text": "121.10", "align": "left", "dx": 22.2, "fontSize": 9.5, "color": "white"},
          "encoding": {"x": {"datum": "2026-06-22", "type": "ordinal"}, "y": {"datum": 121.1}}
        },
        {
          "data": {"name": "one"},
          "mark": {"type": "point", "shape": "circle", "filled": false, "size": 170, "stroke": "#9C3FD6", "strokeWidth": 1.3, "opacity": 1, "xOffset": -2},
          "encoding": {"x": {"datum": "2026-06-17", "type": "ordinal"}, "y": {"datum": 30.12}}
        },
        {
          "data": {"name": "one"},
          "mark": {"type": "point", "shape": "M0,-1Q.15,-.15 1,0Q.15,.15 0,1Q-.15,.15 -1,0Q-.15,-.15 0,-1Z", "filled": true, "size": 64, "color": "#6A3DF0", "opacity": 1, "xOffset": -9},
          "encoding": {"x": {"datum": "2026-06-17", "type": "ordinal"}, "y": {"datum": 30.12}}
        },
        {
          "data": {"name": "one"},
          "mark": {"type": "point", "shape": "M.2,-1L-.6,.15H0L-.2,1L.6,-.2H0Z", "filled": true, "size": 64, "color": "#9C3FD6", "opacity": 1, "xOffset": -2},
          "encoding": {"x": {"datum": "2026-06-17", "type": "ordinal"}, "y": {"datum": 30.12}}
        },
        {
          "data": {"name": "one"},
          "mark": {"type": "point", "shape": "circle", "filled": true, "size": 18, "color": "#F23645", "opacity": 1, "xOffset": 4, "yOffset": -6},
          "encoding": {"x": {"datum": "2026-06-17", "type": "ordinal"}, "y": {"datum": 30.12}}
        }
      ]
    },
    {
      "width": 1989,
      "height": 283,
      "layer": [
        {
          "data": {"name": "bars"},
          "mark": {
            "type": "area", "clip": true,
            "fill": {"gradient": "linear", "x1": 0, "y1": 0, "x2": 0, "y2": 1, "stops": [{"offset": 0, "color": "#98D09B"}, {"offset": 0.3725, "color": "#ffffff"}]}
          },
          "encoding": {
            "x": {
              "field": "date", "type": "ordinal",
              "scale": {
                "type": "band", "range": [-11.3, 2065.42], "paddingInner": 0.26, "paddingOuter": 0.13,
                "domain": ["2026-01-30","2026-02-02","2026-02-03","2026-02-04","2026-02-05","2026-02-06","2026-02-09","2026-02-10","2026-02-11","2026-02-12","2026-02-13","2026-02-17","2026-02-18","2026-02-19","2026-02-20","2026-02-23","2026-02-24","2026-02-25","2026-02-26","2026-02-27","2026-03-02","2026-03-03","2026-03-04","2026-03-05","2026-03-06","2026-03-09","2026-03-10","2026-03-11","2026-03-12","2026-03-13","2026-03-16","2026-03-17","2026-03-18","2026-03-19","2026-03-20","2026-03-23","2026-03-24","2026-03-25","2026-03-26","2026-03-27","2026-03-30","2026-03-31","2026-04-01","2026-04-02","2026-04-06","2026-04-07","2026-04-08","2026-04-09","2026-04-10","2026-04-13","2026-04-14","2026-04-15","2026-04-16","2026-04-17","2026-04-20","2026-04-21","2026-04-22","2026-04-23","2026-04-24","2026-04-27","2026-04-28","2026-04-29","2026-04-30","2026-05-01","2026-05-04","2026-05-05","2026-05-06","2026-05-07","2026-05-08","2026-05-11","2026-05-12","2026-05-13","2026-05-14","2026-05-15","2026-05-18","2026-05-19","2026-05-20","2026-05-21","2026-05-22","2026-05-26","2026-05-27","2026-05-28","2026-05-29","2026-06-01","2026-06-02","2026-06-03","2026-06-04","2026-06-05","2026-06-08","2026-06-09","2026-06-10","2026-06-11","2026-06-12","2026-06-15","2026-06-16","2026-06-17","2026-06-18","2026-06-22","2026-06-23","2026-06-24","2026-06-25","2026-06-26"]
              },
              "axis": {
                "labels": true, "orient": "bottom", "title": null, "ticks": false, "domain": false, "grid": false,
                "values": ["2026-02-02","2026-02-04","2026-02-06","2026-02-10","2026-02-12","2026-02-17","2026-02-19","2026-02-23","2026-02-25","2026-03-02","2026-03-04","2026-03-06","2026-03-10","2026-03-12","2026-03-16","2026-03-18","2026-03-20","2026-03-24","2026-03-26","2026-03-30","2026-04-01","2026-04-06","2026-04-08","2026-04-10","2026-04-14","2026-04-16","2026-04-20","2026-04-22","2026-04-24","2026-04-28","2026-05-01","2026-05-05","2026-05-07","2026-05-11","2026-05-13","2026-05-15","2026-05-19","2026-05-21","2026-05-26","2026-05-28","2026-06-01","2026-06-03","2026-06-05","2026-06-09","2026-06-11","2026-06-15","2026-06-17","2026-06-22"],
                "labelExpr": "datum.value == '2026-02-02' ? 'Feb' : datum.value == '2026-03-02' ? 'Mar' : datum.value == '2026-04-01' ? 'Apr' : datum.value == '2026-05-01' ? 'May' : datum.value == '2026-06-01' ? 'Jun' : '' + toNumber(slice(datum.value, 8))",
                "labelAngle": 0, "labelFontSize": 9.5, "labelColor": "#6a6d78", "labelPadding": 6, "labelOverlap": false, "labelBound": false, "labelFlush": false,
                "labelFontWeight": {"condition": {"test": "slice(datum.value, 8) == '01' || datum.value == '2026-02-02' || datum.value == '2026-03-02'", "value": 600}, "value": 400}
              }
            },
            "y": {
              "field": "rsi", "type": "quantitative",
              "scale": {"domain": [26.43, 90.75], "zero": false, "nice": false},
              "axis": {"labels": false, "orient": "right", "title": null, "ticks": false, "grid": false, "domain": true, "domainColor": "#5d606b", "domainWidth": 1.2}
            },
            "y2": {"datum": 70}
          }
        },
        {
          "data": {"name": "one"},
          "mark": {"type": "rect", "color": "#F0ECF8"},
          "encoding": {"y": {"datum": 70}, "y2": {"datum": 30}}
        },
        {
          "data": {"name": "one"},
          "mark": {"type": "rule", "color": "#ADA6BC", "strokeWidth": 1, "strokeDash": [4, 4]},
          "encoding": {"y": {"datum": 70}}
        },
        {
          "data": {"name": "one"},
          "mark": {"type": "rule", "color": "#ADA6BC", "strokeWidth": 1, "strokeDash": [4, 4]},
          "encoding": {"y": {"datum": 50}}
        },
        {
          "data": {"name": "one"},
          "mark": {"type": "rule", "color": "#ADA6BC", "strokeWidth": 1, "strokeDash": [4, 4]},
          "encoding": {"y": {"datum": 30}}
        },
        {
          "data": {"name": "bars"},
          "mark": {"type": "line", "color": "#FDD835", "strokeWidth": 1, "clip": true},
          "encoding": {
            "x": {"field": "date", "type": "ordinal"},
            "y": {"field": "rsi_ma", "type": "quantitative"}
          }
        },
        {
          "data": {"name": "bars"},
          "mark": {"type": "line", "color": "#7E57C2", "strokeWidth": 1, "clip": true},
          "encoding": {
            "x": {"field": "date", "type": "ordinal"},
            "y": {"field": "rsi", "type": "quantitative"}
          }
        },
        {
          "data": {"name": "rsi_ticks"},
          "mark": {"type": "text", "align": "left", "dx": 3, "fontSize": 9.5, "color": "#6a6d78"},
          "encoding": {
            "x": {"datum": "2026-06-23", "type": "ordinal"},
            "y": {"field": "tick", "type": "quantitative"},
            "text": {"field": "tick", "type": "quantitative", "format": ".2f"}
          }
        },
        {
          "data": {"name": "one"},
          "mark": {"type": "text", "text": "RSI", "align": "left", "dx": 8, "fontSize": 9.5, "color": "#787B86"},
          "encoding": {"x": {"datum": "2026-01-30", "type": "ordinal"}, "y": {"datum": 87.7}}
        },
        {
          "data": {"name": "one"},
          "mark": {"type": "text", "text": "57.34", "align": "left", "dx": 26.1, "fontSize": 9.5, "color": "#7E57C2"},
          "encoding": {"x": {"datum": "2026-01-30", "type": "ordinal"}, "y": {"datum": 87.7}}
        },
        {
          "data": {"name": "one"},
          "mark": {"type": "text", "text": "55.09", "align": "left", "dx": 56.1, "fontSize": 9.5, "color": "#FDD835"},
          "encoding": {"x": {"datum": "2026-01-30", "type": "ordinal"}, "y": {"datum": 87.7}}
        },
        {
          "data": {"name": "one"},
          "mark": {"type": "rule", "color": "#434651", "strokeWidth": 1.2, "xOffset": 1, "x2Offset": -1},
          "encoding": {"x": {"datum": "2026-01-30", "type": "ordinal"}, "x2": {"datum": "2026-06-25"}, "y": {"datum": 26.43}}
        },
        {
          "data": {"name": "one"},
          "mark": {"type": "rule", "color": "#eef0f4", "strokeWidth": 1},
          "encoding": {"y": {"datum": 21.66}}
        },
        {
          "data": {"name": "one"},
          "mark": {"type": "rule", "color": "#5d606b", "strokeWidth": 1, "xOffset": -5},
          "encoding": {"x": {"datum": "2026-06-23", "type": "ordinal"}, "y": {"datum": 26.43}, "y2": {"datum": 21.66}}
        },
        {
          "data": {"name": "one"},
          "mark": {"type": "point", "shape": "M-1,-.48H-.15V.48H-.55V-.05H-1Z M.1,-.24m-.22,0a.22,.22 0 1,0 .44,0a.22,.22 0 1,0 -.44,0Z M.5,-.48H1L.5,.48H.05Z", "filled": true, "size": 529, "color": "#131722", "opacity": 1, "xOffset": -6.5},
          "encoding": {"x": {"datum": "2026-02-02", "type": "ordinal"}, "y": {"datum": 16.32}}
        },
        {
          "data": {"name": "one"},
          "mark": {"type": "text", "text": "TradingView", "align": "left", "dx": 11, "font": "Inter", "fontWeight": 600, "fontSize": 15.5, "color": "#131722"},
          "encoding": {"x": {"datum": "2026-02-02", "type": "ordinal"}, "y": {"datum": 16.32}}
        }
      ]
    }
  ]
}
